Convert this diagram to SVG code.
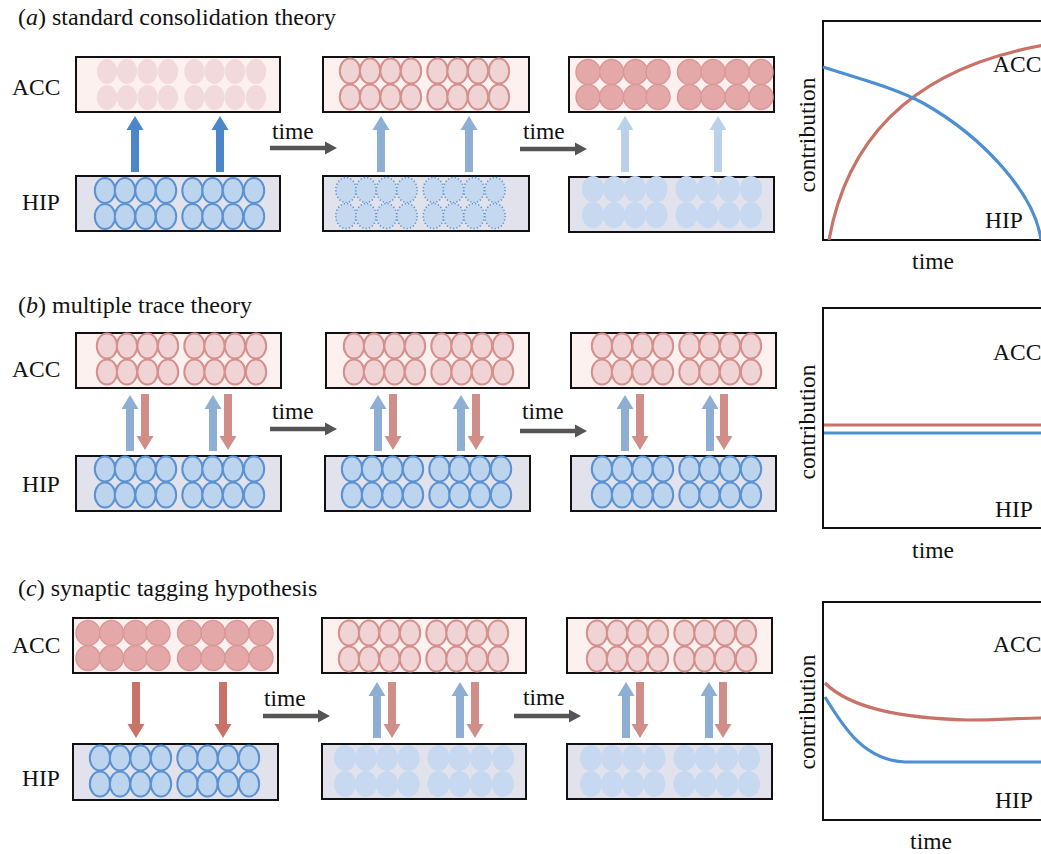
<svg xmlns="http://www.w3.org/2000/svg" xmlns:xlink="http://www.w3.org/1999/xlink" width="1041" height="854" viewBox="0 0 1041 854">
<style>
text{font-family:'Liberation Serif','Times New Roman',Tinos,'DejaVu Serif',serif;font-size:23.5px;fill:#111}
.ttl{font-size:24px}
.box{stroke:#111;stroke-width:2}
.acc{fill:#fdf1f0}
.hip{fill:#e2e2ec}
.cA{fill:#f0d4d5;stroke:#d58f8c;stroke-width:2}
.cAf{fill:#f2d9dc}
.cAs{fill:#e4a8a8;stroke:#da9898;stroke-width:1.5}
.cH{fill:#bdd4ef;stroke:#5a92d2;stroke-width:2}
.cHd{fill:#c4d8ef;stroke:#5a92d2;stroke-width:1.6;stroke-dasharray:1.2 2.2}
.cHf{fill:#c6d9f0}
.bS{fill:#4a86c8}
.bM{fill:#8eaed3}
.bL{fill:#b9d2ea}
.rM{fill:#d08e88}
.rS{fill:#c87268}
.tm{fill:#555}
.gbox{fill:#fff;stroke:#111;stroke-width:2}
.cr{fill:none;stroke:#c87368;stroke-width:3.2}
.cb{fill:none;stroke:#4d8fd1;stroke-width:3.2}
</style>
<defs>
<g id="cellsA">
<ellipse cx="0" cy="0" rx="10.2" ry="12.5"/><ellipse cx="20" cy="0" rx="10.2" ry="12.5"/><ellipse cx="40.5" cy="0" rx="10.2" ry="12.5"/><ellipse cx="61" cy="0" rx="10.2" ry="12.5"/>
<ellipse cx="87.5" cy="0" rx="10.2" ry="12.5"/><ellipse cx="107.5" cy="0" rx="10.2" ry="12.5"/><ellipse cx="128" cy="0" rx="10.2" ry="12.5"/><ellipse cx="149" cy="0" rx="10.2" ry="12.5"/>
<ellipse cx="0" cy="26" rx="10.2" ry="12.5"/><ellipse cx="20" cy="26" rx="10.2" ry="12.5"/><ellipse cx="40.5" cy="26" rx="10.2" ry="12.5"/><ellipse cx="61" cy="26" rx="10.2" ry="12.5"/>
<ellipse cx="87.5" cy="26" rx="10.2" ry="12.5"/><ellipse cx="107.5" cy="26" rx="10.2" ry="12.5"/><ellipse cx="128" cy="26" rx="10.2" ry="12.5"/><ellipse cx="149" cy="26" rx="10.2" ry="12.5"/>
</g>
<g id="cellsB">
<ellipse cx="0" cy="0" rx="12" ry="12.5"/><ellipse cx="23.5" cy="0" rx="12" ry="12.5"/><ellipse cx="47.5" cy="0" rx="12" ry="12.5"/><ellipse cx="70" cy="0" rx="12" ry="12.5"/>
<ellipse cx="101.5" cy="0" rx="12" ry="12.5"/><ellipse cx="125" cy="0" rx="12" ry="12.5"/><ellipse cx="149" cy="0" rx="12" ry="12.5"/><ellipse cx="173" cy="0" rx="12" ry="12.5"/>
<ellipse cx="0" cy="25" rx="12" ry="12.5"/><ellipse cx="23.5" cy="25" rx="12" ry="12.5"/><ellipse cx="47.5" cy="25" rx="12" ry="12.5"/><ellipse cx="70" cy="25" rx="12" ry="12.5"/>
<ellipse cx="101.5" cy="25" rx="12" ry="12.5"/><ellipse cx="125" cy="25" rx="12" ry="12.5"/><ellipse cx="149" cy="25" rx="12" ry="12.5"/><ellipse cx="173" cy="25" rx="12" ry="12.5"/>
</g>
<g id="cellsC">
<ellipse cx="0" cy="0" rx="11" ry="13"/><ellipse cx="21" cy="0" rx="11" ry="13"/><ellipse cx="42" cy="0" rx="11" ry="13"/><ellipse cx="63.5" cy="0" rx="11" ry="13"/>
<ellipse cx="93.5" cy="0" rx="11" ry="13"/><ellipse cx="114.5" cy="0" rx="11" ry="13"/><ellipse cx="136" cy="0" rx="11" ry="13"/><ellipse cx="158" cy="0" rx="11" ry="13"/>
<ellipse cx="0" cy="26" rx="11" ry="13"/><ellipse cx="21" cy="26" rx="11" ry="13"/><ellipse cx="42" cy="26" rx="11" ry="13"/><ellipse cx="63.5" cy="26" rx="11" ry="13"/>
<ellipse cx="93.5" cy="26" rx="11" ry="13"/><ellipse cx="114.5" cy="26" rx="11" ry="13"/><ellipse cx="136" cy="26" rx="11" ry="13"/><ellipse cx="158" cy="26" rx="11" ry="13"/>
</g>
<path id="au" d="M-4,0 V-42 H-8.5 L0,-56 L8.5,-42 H4 V0 Z"/>
<path id="ad" d="M-4,0 V42 H-8.5 L0,56 L8.5,42 H4 V0 Z"/>
<path id="at" d="M0,-2.2 H55 V-6.5 L67,0 L55,6.5 V2.2 H0 Z"/>
</defs>

<!-- titles and row labels -->
<g id="labels">
<text class="ttl" x="18" y="25">(<tspan font-style="italic">a</tspan>) standard consolidation theory</text>
<text class="ttl" x="18" y="313">(<tspan font-style="italic">b</tspan>) multiple trace theory</text>
<text class="ttl" x="18" y="596">(<tspan font-style="italic">c</tspan>) synaptic tagging hypothesis</text>
<text x="12" y="95">ACC</text>
<text x="22" y="210">HIP</text>
<text x="12" y="377">ACC</text>
<text x="22" y="492">HIP</text>
<text x="12" y="653">ACC</text>
<text x="22" y="786">HIP</text>
</g>

<!-- panel a -->
<g id="a-acc-1"><rect class="box acc" x="76" y="57" width="204" height="55"/><use xlink:href="#cellsA" class="cAf" x="107" y="71.5"/></g>
<g id="a-hip-1"><rect class="box hip" x="76" y="176" width="204" height="55"/><use xlink:href="#cellsA" class="cH" x="105" y="190.5"/></g>
<g id="a-acc-2"><rect class="box acc" x="323" y="57" width="206" height="55"/><use xlink:href="#cellsA" class="cA" x="350" y="71"/></g>
<g id="a-hip-2"><rect class="box hip" x="323" y="176" width="206" height="55"/><use xlink:href="#cellsA" class="cHd" x="346" y="190"/></g>
<g id="a-acc-3"><rect class="box acc" x="569" y="57" width="205" height="55"/><use xlink:href="#cellsB" class="cAs" x="588" y="72"/></g>
<g id="a-hip-3"><rect class="box hip" x="569" y="177" width="205" height="55"/><use xlink:href="#cellsC" class="cHf" x="593" y="189"/></g>

<!-- panel b -->
<g id="b-acc-1"><rect class="box acc" x="76" y="333" width="205" height="55"/><use xlink:href="#cellsA" class="cA" x="107" y="346"/></g>
<g id="b-hip-1"><rect class="box hip" x="76" y="456" width="205" height="55"/><use xlink:href="#cellsA" class="cH" x="105" y="469"/></g>
<g id="b-acc-2"><rect class="box acc" x="326" y="333" width="203" height="55"/><use xlink:href="#cellsA" class="cA" x="354" y="346"/></g>
<g id="b-hip-2"><rect class="box hip" x="325" y="456" width="205" height="55"/><use xlink:href="#cellsA" class="cH" x="352" y="469"/></g>
<g id="b-acc-3"><rect class="box acc" x="571" y="333" width="205" height="55"/><use xlink:href="#cellsA" class="cA" x="602" y="346"/></g>
<g id="b-hip-3"><rect class="box hip" x="571" y="456" width="205" height="55"/><use xlink:href="#cellsA" class="cH" x="602" y="469"/></g>

<!-- panel c -->
<g id="c-acc-1"><rect class="box acc" x="73" y="618" width="205" height="55"/><use xlink:href="#cellsB" class="cAs" x="88" y="633"/></g>
<g id="c-hip-1"><rect class="box hip" x="73" y="744" width="205" height="56"/><use xlink:href="#cellsA" class="cH" x="100" y="758"/></g>
<g id="c-acc-2"><rect class="box acc" x="322" y="618" width="204" height="55"/><use xlink:href="#cellsA" class="cA" x="349" y="633"/></g>
<g id="c-hip-2"><rect class="box hip" x="322" y="744" width="204" height="55"/><use xlink:href="#cellsC" class="cHf" x="345" y="758"/></g>
<g id="c-acc-3"><rect class="box acc" x="567" y="618" width="205" height="55"/><use xlink:href="#cellsA" class="cA" x="597" y="633"/></g>
<g id="c-hip-3"><rect class="box hip" x="567" y="744" width="205" height="55"/><use xlink:href="#cellsC" class="cHf" x="591" y="758"/></g>

<!-- graphs -->
<g id="graph-a">
<rect class="gbox" x="823" y="21" width="240" height="219"/>
<path class="cr" d="M829,240 C845,150 900,70 1045,45"/>
<path class="cb" d="M823,67 C860,79 895,88 923,103 C985,138 1035,195 1041,240"/>
<text x="993" y="72">ACC</text>
<text x="985" y="228">HIP</text>
<text transform="translate(815,135) rotate(-90)" text-anchor="middle">contribution</text>
<text x="933" y="269" text-anchor="middle">time</text>
</g>
<g id="graph-b">
<rect class="gbox" x="823" y="308" width="240" height="220"/>
<line class="cr" x1="824" y1="425" x2="1041" y2="425"/>
<line class="cb" x1="824" y1="433" x2="1041" y2="433"/>
<text x="993" y="360">ACC</text>
<text x="995" y="517">HIP</text>
<text transform="translate(815,422) rotate(-90)" text-anchor="middle">contribution</text>
<text x="933" y="558" text-anchor="middle">time</text>
</g>
<g id="graph-c">
<rect class="gbox" x="823" y="602" width="240" height="218"/>
<path class="cr" d="M825,683 C850,708 900,718 967,720 C1000,720 1020,718 1041,718"/>
<path class="cb" d="M825,697 C845,730 865,760 905,762 L1041,762"/>
<text x="993" y="652">ACC</text>
<text x="995" y="808">HIP</text>
<text transform="translate(815,712) rotate(-90)" text-anchor="middle">contribution</text>
<text x="931" y="849" text-anchor="middle">time</text>
</g>

<!-- connectors -->
<g id="connectors">
<use xlink:href="#au" class="bS" x="135" y="172"/>
<use xlink:href="#au" class="bS" x="220" y="172"/>
<use xlink:href="#au" class="bM" x="381" y="172"/>
<use xlink:href="#au" class="bM" x="469" y="172"/>
<use xlink:href="#au" class="bL" x="625" y="172"/>
<use xlink:href="#au" class="bL" x="718" y="172"/>

<use xlink:href="#au" class="bM" x="130" y="451"/>
<use xlink:href="#ad" class="rM" x="145" y="394"/>
<use xlink:href="#au" class="bM" x="213" y="451"/>
<use xlink:href="#ad" class="rM" x="228" y="394"/>
<use xlink:href="#au" class="bM" x="378" y="451"/>
<use xlink:href="#ad" class="rM" x="393" y="394"/>
<use xlink:href="#au" class="bM" x="461" y="451"/>
<use xlink:href="#ad" class="rM" x="476" y="394"/>
<use xlink:href="#au" class="bM" x="625" y="451"/>
<use xlink:href="#ad" class="rM" x="640" y="394"/>
<use xlink:href="#au" class="bM" x="710" y="451"/>
<use xlink:href="#ad" class="rM" x="724" y="394"/>

<use xlink:href="#ad" class="rS" x="136" y="682"/>
<use xlink:href="#ad" class="rS" x="223" y="682"/>
<use xlink:href="#au" class="bM" x="377" y="738"/>
<use xlink:href="#ad" class="rM" x="392" y="682"/>
<use xlink:href="#au" class="bM" x="460" y="738"/>
<use xlink:href="#ad" class="rM" x="475" y="682"/>
<use xlink:href="#au" class="bM" x="626" y="738"/>
<use xlink:href="#ad" class="rM" x="640" y="682"/>
<use xlink:href="#au" class="bM" x="709" y="738"/>
<use xlink:href="#ad" class="rM" x="723" y="682"/>

<use xlink:href="#at" class="tm" x="270" y="148"/>
<use xlink:href="#at" class="tm" x="520" y="149"/>
<use xlink:href="#at" class="tm" x="270" y="429"/>
<use xlink:href="#at" class="tm" x="520" y="431"/>
<use xlink:href="#at" class="tm" x="263" y="716"/>
<use xlink:href="#at" class="tm" x="514" y="716"/>
<text x="272" y="139">time</text>
<text x="523" y="139">time</text>
<text x="272" y="419">time</text>
<text x="522" y="419">time</text>
<text x="264" y="706">time</text>
<text x="523" y="705">time</text>
</g>
</svg>
